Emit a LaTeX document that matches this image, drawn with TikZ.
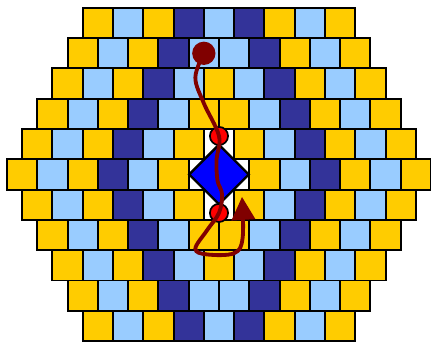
\documentclass[tikz,border=0pt]{standalone}
\usepackage{tikz}
\usepackage{xcolor}
\usetikzlibrary{arrows.meta,shapes.geometric}
\definecolor{Ink}{HTML}{000000}
\definecolor{Amber}{HTML}{FFCC00}
\definecolor{Sky}{HTML}{99CCFF}
\definecolor{Indigo}{HTML}{333399}
\definecolor{Cobalt}{HTML}{0000FF}
\definecolor{Scarlet}{HTML}{FF0000}
\definecolor{Maroon}{HTML}{800000}
\tikzset{
  brick/.style={draw=Ink, line width=1.8pt},
  bead/.style={circle, draw=Ink, line width=1.6pt, fill=Scarlet, minimum size=0.6cm, inner sep=0pt},
  gem/.style={diamond, draw=Ink, line width=2.2pt, fill=Cobalt, minimum size=2cm, inner sep=0pt},
  trail/.style={Maroon, line width=3.6pt, line cap=round, -{Triangle[length=7.6mm, width=7.6mm]}}
}
\newcommand{\brickrow}[3]{
  \foreach \tone [count=\k from 0] in {#3}
    \draw[brick, fill=\tone] ({#1+\k},#2) rectangle ++(1,1);
}

\begin{document}
\begin{tikzpicture}
        \useasboundingbox (-0.23,-0.06) rectangle (14.0,11.26);
        % upper half
        \brickrow{2.5}{10}{Amber,Sky,Amber,Indigo,Sky,Indigo,Amber,Sky,Amber}
        \brickrow{2}{9}{Amber,Sky,Amber,Indigo,Sky,Sky,Indigo,Amber,Sky,Amber}
        \brickrow{1.5}{8}{Amber,Sky,Amber,Indigo,Sky,Amber,Sky,Indigo,Amber,Sky,Amber}
        \brickrow{1}{7}{Amber,Sky,Amber,Indigo,Sky,Amber,Amber,Sky,Indigo,Amber,Sky,Amber}
        \brickrow{0.5}{6}{Amber,Sky,Amber,Indigo,Sky,Amber,white,Amber,Sky,Indigo,Amber,Sky,Amber}
        \brickrow{0}{5}{Amber,Sky,Amber,Indigo,Sky,Amber,white,white,Amber,Sky,Indigo,Amber,Sky,Amber}
        % lower half
        \brickrow{0.5}{4}{Amber,Sky,Amber,Indigo,Sky,Amber,white,Amber,Sky,Indigo,Amber,Sky,Amber}
        \brickrow{1}{3}{Amber,Sky,Amber,Indigo,Sky,Amber,Amber,Sky,Indigo,Amber,Sky,Amber}
        \brickrow{1.5}{2}{Amber,Sky,Amber,Indigo,Sky,Amber,Sky,Indigo,Amber,Sky,Amber}
        \brickrow{2}{1}{Amber,Sky,Amber,Indigo,Sky,Sky,Indigo,Amber,Sky,Amber}
        \brickrow{2.5}{0}{Amber,Sky,Amber,Indigo,Sky,Indigo,Amber,Sky,Amber}
        % defect
        \node[gem] (core) at (7,5.5) {};
        \node[bead] (top) at (7,6.77) {};
        \node[bead] (bottom) at (7,4.23) {};
        % circuit
        \node[circle, fill=Maroon, minimum size=0.77cm, inner sep=0pt] (start) at (6.5,9.5) {};
        \coordinate (tip) at (7.76,4.76);
        \draw[trail] plot[smooth, tension=0.6] coordinates {(start) (6.22,8.7) (6.5,7.85) (top) (6.92,6.0) (6.95,5.3) (7.1,4.85) (bottom) (6.6,3.65) (6.22,3.05) (6.6,2.86) (7.5,2.9) (7.78,3.4) (tip)};
      \end{tikzpicture}
\end{document}
